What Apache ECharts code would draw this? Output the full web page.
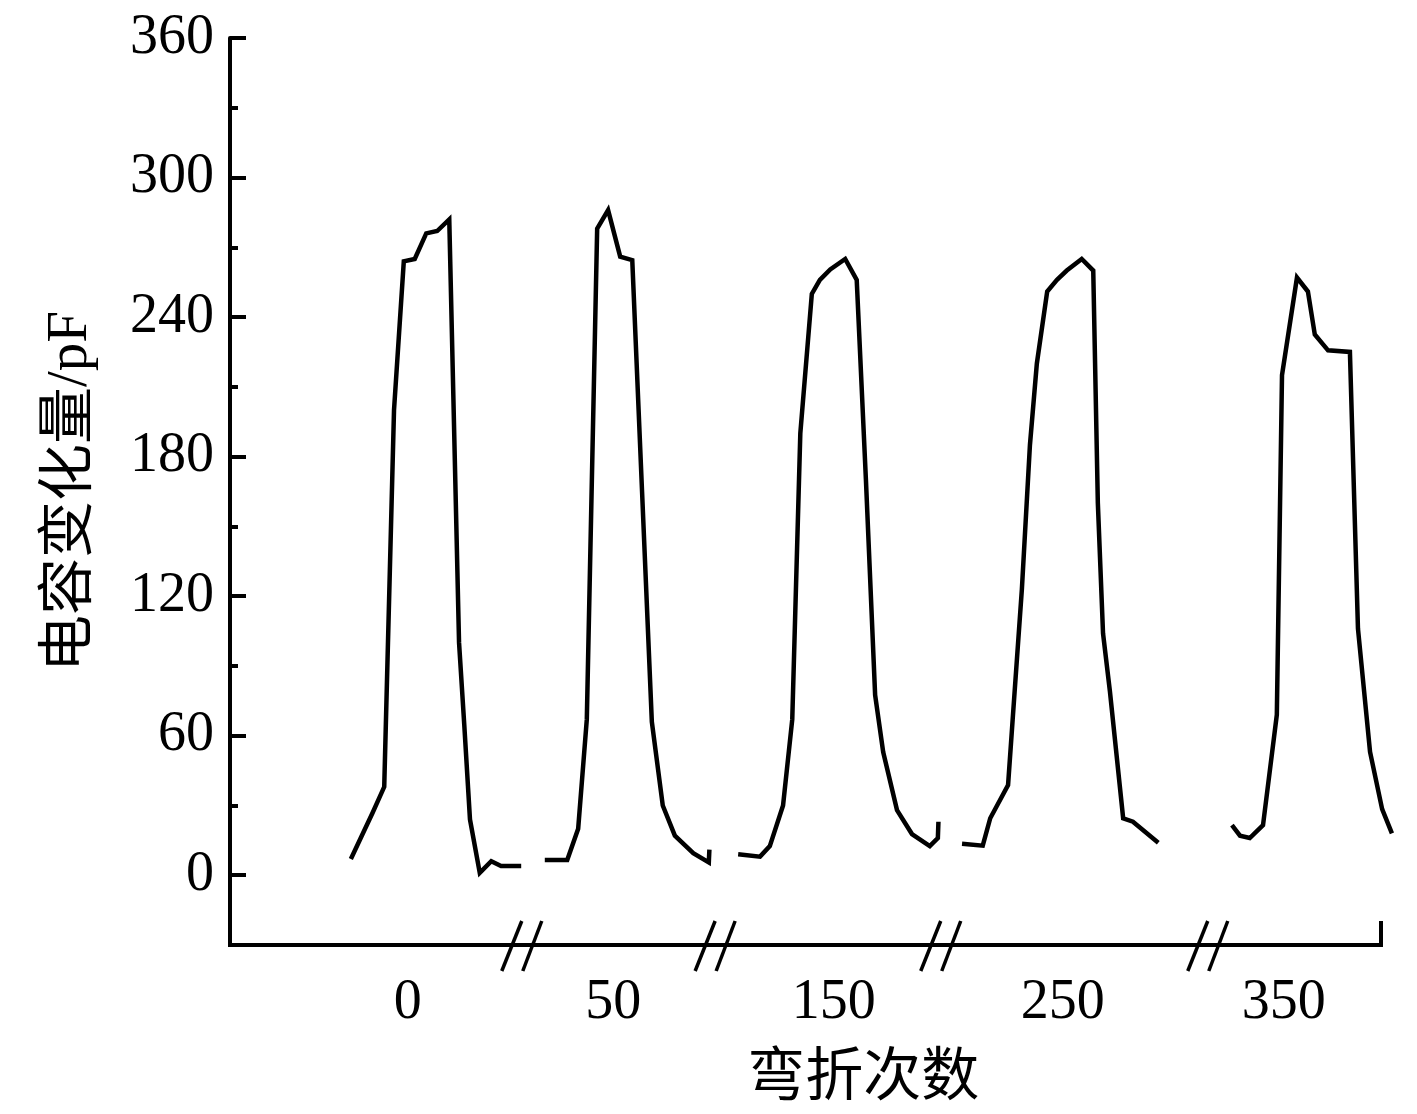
<!DOCTYPE html>
<html>
<head>
<meta charset="utf-8">
<script src="https://cdn.jsdelivr.net/npm/echarts@6/dist/echarts.min.js"></script>
<style>
html,body{margin:0;padding:0;background:#fff;}
#chart{width:1417px;height:1114px;}
</style>
</head>
<body>
<div id="chart"></div>
<script>
// ---- data (x in arbitrary time units along the broken axis, y in pF) ----
const cycle1X = [21.0, 22.9, 24.8, 26.8, 28.5, 30.2, 32.1, 34.1, 36.0, 38.1, 39.8, 40.7, 41.7, 43.4, 45.4, 47.1, 50.6];
const cycle1Y = [7, 17, 27, 38, 200, 264, 265, 276, 277, 282, 100, 65, 24, 1, 6, 4, 4];

const cycle2X = [54.7, 58.6, 60.5, 62.0, 63.8, 65.7, 67.8, 69.9, 71.6, 73.3, 75.2, 77.3, 80.5, 83.2, 83.3];
const cycle2Y = [6.5, 6.5, 20, 67, 278, 286, 266, 264.5, 165, 66, 30, 17, 9.5, 5.5, 11];

const cycle3X = [88.3, 92.1, 93.8, 96.1, 97.7, 99.1, 101.1, 102.5, 104.3, 106.9, 108.9, 110.5, 112.1, 113.5, 115.9, 118.5, 121.6, 123.0, 123.1];
const cycle3Y = [9, 8, 12.5, 30, 67, 190, 250, 256, 260.5, 265, 256, 170, 77.5, 53, 28, 17.7, 12.5, 16, 23];

const cycle4X = [127.2, 130.8, 132.1, 135.2, 136.0, 137.6, 139.0, 140.2, 142.0, 143.7, 145.4, 148.0, 150.0, 150.8, 151.7, 152.9, 155.2, 156.9, 161.3];
const cycle4Y = [13.5, 12.7, 24.5, 38.8, 67, 123, 185, 220, 251, 256, 260, 265, 260, 160, 104, 79, 24.5, 23, 14];

const cycle5X = [174.1, 175.5, 177.2, 179.5, 181.9, 182.8, 185.4, 187.3, 188.5, 190.8, 194.6, 196.0, 198.1, 200.2, 201.9];
const cycle5Y = [21.5, 17, 16, 21.5, 69, 215, 257, 251, 232.5, 225.7, 225, 106, 53, 28.4, 18];

// x-axis category labels (bending counts) and where they sit
const xLabelPos = [30.9, 66.6, 104.9, 144.7, 183.1];
const xLabels = ['0', '50', '150', '250', '350'];
// axis-break marks
const breakPos = [50.7, 84.3, 123.5, 169.9];
// y ticks
const yMajor = [0, 60, 120, 180, 240, 300, 360];
const yMinor = [30, 90, 150, 210, 270, 330];

const yMin = -30, yMax = 360;
const xMin = 0, xAxisEnd = 200, xMax = 202; // axis line drawn to xAxisEnd, last trace runs slightly past it

const zip = (xs, ys) => xs.map((x, i) => [x, ys[i]]);
const cycles = [[cycle1X, cycle1Y], [cycle2X, cycle2Y], [cycle3X, cycle3Y], [cycle4X, cycle4Y], [cycle5X, cycle5Y]];

const SERIF = "'Liberation Serif', 'Times New Roman', 'Noto Sans CJK SC', serif";

const chart = echarts.init(document.getElementById('chart'), null, {renderer: 'canvas'});

const lineSeries = cycles.map((c, i) => ({
  type: 'line',
  name: 'cycle' + (i + 1),
  data: zip(c[0], c[1]),
  showSymbol: false,
  symbol: 'none',
  clip: false,
  lineStyle: {color: '#000', width: 4.5, join: 'miter'},
  animation: false,
  z: 3
}));

const option = {
  animation: false,
  backgroundColor: '#fff',
  grid: {left: 230, right: 24.5, top: 38, bottom: 169, containLabel: false},
  xAxis: {
    type: 'value',
    min: xMin, max: xMax,
    name: '弯折次数',
    nameLocation: 'middle',
    nameGap: 106,
    nameTextStyle: {fontFamily: SERIF, fontSize: 58, color: '#000', padding: [0, 0, 0, 104]},
    axisLine: {show: false, onZero: false},
    axisTick: {show: false},
    axisLabel: {
      show: true,
      customValues: xLabelPos,
      margin: 30,
      fontFamily: SERIF, fontSize: 56, color: '#000',
      formatter: function (v) {
        const idx = xLabelPos.findIndex(p => Math.abs(p - v) < 1e-6);
        return idx >= 0 ? xLabels[idx] : '';
      }
    },
    splitLine: {show: false}
  },
  yAxis: [{
    type: 'value',
    min: yMin, max: yMax,
    position: 'left',
    name: '电容变化量/pF',
    nameLocation: 'middle',
    nameGap: 130,
    nameTextStyle: {fontFamily: SERIF, fontSize: 57, color: '#000'},
    axisLine: {show: true, onZero: false, lineStyle: {color: '#000', width: 4}},
    axisTick: {show: true, inside: true, length: 16, customValues: yMajor, lineStyle: {color: '#000', width: 4}},
    axisLabel: {show: true, customValues: yMajor, margin: 16, fontFamily: SERIF, fontSize: 56, color: '#000'},
    splitLine: {show: false}
  }, {
    type: 'value',
    min: yMin, max: yMax,
    position: 'left',
    offset: 0,
    axisLine: {show: false, onZero: false},
    axisTick: {show: true, inside: true, length: 8, customValues: yMinor, lineStyle: {color: '#000', width: 4}},
    axisLabel: {show: false},
    splitLine: {show: false}
  }],
  series: lineSeries.concat([{
    type: 'custom',
    name: 'xAxisLine',
    clip: false,
    z: 4,
    data: [[xMin, yMin, xAxisEnd]],
    encode: {x: 0, y: 1},
    renderItem: function (params, api) {
      const a = api.coord([api.value(0), api.value(1)]);
      const b = api.coord([api.value(2), api.value(1)]);
      const st = {stroke: '#000', lineWidth: 4, lineCap: 'square'};
      return {
        type: 'group',
        children: [
          {type: 'line', shape: {x1: a[0], y1: a[1], x2: b[0], y2: b[1]}, style: st},
          {type: 'line', shape: {x1: b[0], y1: b[1], x2: b[0], y2: b[1] - 24}, style: {stroke: '#000', lineWidth: 4}}
        ]
      };
    }
  }, {
    type: 'custom',
    name: 'breaks',
    clip: false,
    z: 5,
    data: breakPos.map(v => [v, yMin]),
    encode: {x: 0, y: 1},
    renderItem: function (params, api) {
      const p = api.coord([api.value(0), api.value(1)]);
      const st = {stroke: '#000', lineWidth: 3.5};
      return {
        type: 'group',
        children: [
          {type: 'line', shape: {x1: p[0] - 20, y1: p[1] + 26, x2: p[0], y2: p[1] - 24}, style: st},
          {type: 'line', shape: {x1: p[0] + 1, y1: p[1] + 26, x2: p[0] + 20, y2: p[1] - 24}, style: st}
        ]
      };
    }
  }])
};

chart.setOption(option);
</script>
</body>
</html>
